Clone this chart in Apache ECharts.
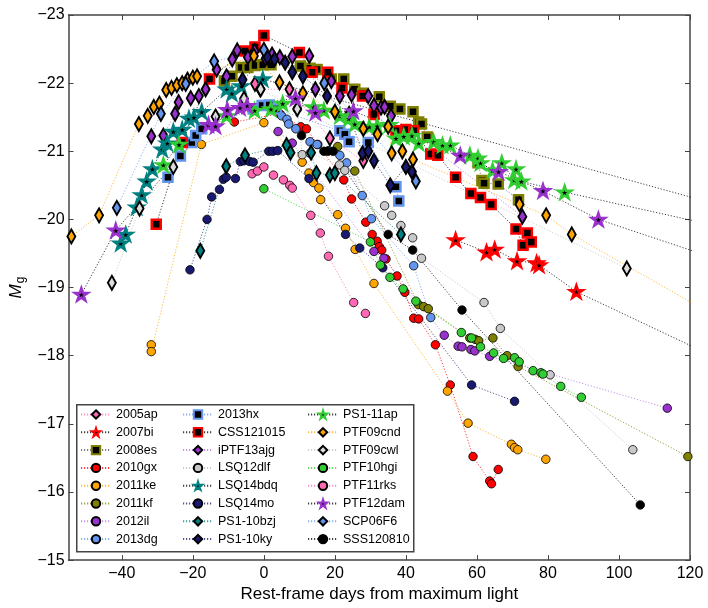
<!DOCTYPE html>
<html>
<head>
<meta charset="utf-8">
<title>SLSN g-band light curves</title>
<script src="https://cdn.jsdelivr.net/npm/echarts@6/dist/echarts.min.js"></script>
<style>
  html, body { margin: 0; padding: 0; background: #fff; }
  #chart { width: 708px; height: 608px; }
</style>
</head>
<body>
<div id="chart"></div>
<script>
// light curves: [rest-frame days, M_g]
var sn2005ap = [[-2.5,-21.99],[-1,-21.91],[7.2,-21.91],[18.6,-21.19],[28,-20.86]];
var sn2007bi = [[54,-19.7],[62.7,-19.52],[65,-19.56],[71.3,-19.39],[76.8,-19.36],[77.5,-19.33],[88,-18.94],[120.5,-18.14]];
var sn2008es = [[-11.1,-22.03],[-9,-22.1],[-6.4,-22.23],[-4.5,-22.23],[-2.5,-22.26],[-0.3,-22.27],[2,-22.27],[10.3,-22.25],
  [13,-22.22],[15,-22.2],[19,-22.06],[22.5,-22.06],[25.6,-21.91],[27.8,-21.85],[32.5,-21.8],[35.6,-21.66],[38.3,-21.62],
  [42,-21.58],[43.6,-21.43],[44.4,-21.4],[46,-21.21],[60.3,-20.83],[61.4,-20.57],[62,-20.53],[66,-20.52],[71.7,-20.29]];
var sn2010gx = [[-8.3,-21.43],[4.5,-21.55],[10.4,-21.36],[12,-21.33],[15.2,-21.1],[22.5,-20.58],[24.7,-20.3],[28.7,-19.96],
  [30.5,-19.78],[31.9,-19.68],[32.5,-19.6],[33.2,-19.55],[34.4,-19.42],[37.5,-19.17],[39.7,-18.93],[42.2,-18.55],[43.6,-18.54],
  [48.3,-18.16],[52.5,-17.57],[58.9,-16.52],[63.6,-16.16],[64.1,-16.12],[66,-16.33]];
var sn2011ke = [[-31.7,-18.16],[-31.7,-18.06],[-17.6,-21.1],[0,-21.42],[10.8,-20.84],[12.7,-20.68],[14,-20.54],[15.5,-20.46],
  [16,-20.29],[20.8,-20.07],[23,-19.87],[25.7,-19.56],[31,-19.06],[51.7,-17.48],[57.5,-17.01],[69.7,-16.7],[70.6,-16.65],
  [71.5,-16.62],[79.4,-16.48]];
var sn2011kf = [[20.8,-21.07],[25.6,-20.71],[43.5,-18.75],[45,-18.72],[46.3,-18.69],[58,-18.26],[59.5,-18.24],[60.5,-18.22],
  [64.5,-18.26],[68.5,-18.0],[71.6,-17.84],[119.4,-16.52]];
var sn2012il = [[4,-21.29],[8,-21.12],[31,-19.53],[33.8,-19.43],[50.8,-18.3],[54.7,-18.14],[55.8,-18.13],[58.3,-18.09],
  [59.4,-18.07],[63.6,-17.99],[113.6,-17.23]];
var sn2013dg = [[5,-21.52],[6.5,-21.47],[7,-21.4],[9,-21.33],[13,-21.14],[15,-21.1],[18.3,-21.01],[21.4,-20.94],[23.3,-20.83],
  [27.7,-20.35],[30.3,-20.01],[42.2,-19.32],[47,-18.56]];
var sn2013hx = [[-27,-20.62],[-23.5,-20.93],[-20.3,-21.13],[-19.2,-21.23],[-17.5,-21.33],[-3,-21.62],[-0.5,-21.67],[1.5,-21.68],
  [3.5,-21.62],[21.4,-21.3],[22.8,-21.25],[24,-21.14],[29.4,-21.13],[37.2,-20.48],[38,-20.27]];
var css121015 = [[-30.3,-19.93],[-23,-21.13],[-15.3,-22.06],[-5.3,-22.47],[-2.5,-22.53],[0,-22.7],[10,-22.45],[13.6,-22.16],
  [18,-22.16],[22,-21.93],[27.8,-21.81],[31,-21.54],[37.2,-21.3],[40,-21.32],[42.2,-21.3],[47,-20.96],[49,-20.94],[54,-20.62],
  [58.3,-20.38],[61,-20.32],[64,-20.22],[71,-19.86],[73,-19.62],[74.2,-19.8],[75.3,-19.67]];
var iptf13ajg = [[-31.7,-21.22],[-28.3,-21.23],[-25,-21.55],[-24,-21.72],[-20.6,-21.78],[-18.3,-21.81],[-16.4,-21.91],
  [-13.3,-22.2],[-10.5,-22.1],[-8.9,-22.35],[-7.5,-22.48],[-4.5,-22.38],[-2.6,-22.47],[0.5,-22.36],[2.3,-22.42],[4.5,-22.38],
  [8,-22.39],[12.8,-22.4],[14.5,-21.91],[19,-22.03],[21.4,-21.81],[24.7,-21.83],[29.4,-21.81],[31,-21.67],[33,-21.64],
  [34,-21.65],[35.8,-21.52],[72.8,-20.04]];
var lsq12dlf = [[9.4,-21.62],[10.8,-20.95],[13,-20.97],[21.3,-20.8],[22.8,-20.72],[34,-20.2],[36,-20.06],[38.6,-19.91],
  [41.9,-19.73],[44.4,-19.43],[62,-18.78],[66.6,-18.4],[80.6,-17.72],[103.9,-16.62]];
var lsq14bdq = [[-40.3,-19.65],[-38.9,-19.78],[-35.8,-20.18],[-34.4,-20.36],[-33,-20.56],[-31.4,-20.74],[-28.6,-21.03],
  [-27.2,-21.12],[-25.5,-21.29],[-23,-21.32],[-21.1,-21.48],[-19.7,-21.5],[-17.5,-21.58],[-10.5,-21.91],[-9,-21.85],
  [-6.4,-21.96],[-0.3,-22.06],[200,-19.18]];
var lsq14mo = [[-20.8,-19.26],[-16,-20.0],[-14.7,-20.33],[-12.5,-20.44],[-11.4,-20.59],[-10.6,-20.62],[-8,-20.6],[-6.6,-20.85],
  [-5.6,-20.86],[-4,-20.85],[-3,-20.84],[1.4,-21.0],[2.5,-21.0],[3.9,-21.01],[12.7,-20.6],[23,-19.78],[27,-19.58],
  [33.5,-19.29],[58.5,-17.57],[70.6,-17.33]];
var ps1_10bzj = [[-17.9,-19.54],[-10.6,-20.78],[-5.3,-20.94],[6.4,-21.09],[7.5,-20.98],[13.3,-20.98],[14.8,-20.68],
  [18.6,-20.65],[20,-20.68],[38.6,-19.78]];
var ps1_10ky = [[-6,-22.05],[1,-22.38],[3,-22.35],[6,-22.3],[8,-22.16],[11,-22.1],[17.8,-21.81],[24,-21.55],[27.8,-20.97],
  [29.4,-21.0],[31,-20.86],[35.6,-20.5],[40,-20.77],[41.7,-20.7]];
var ps1_11ap = [[-28.3,-20.8],[-23.9,-21.1],[-10.5,-21.52],[-2.6,-21.6],[2,-21.62],[5.3,-21.7],[14,-21.65],[16.9,-21.6],
  [21.4,-21.52],[23.9,-21.48],[25.6,-21.4],[29.7,-21.36],[31.9,-21.37],[35.3,-21.39],[37.2,-21.19],[39.4,-21.22],
  [41.7,-21.23],[43.6,-21.12],[47.8,-21.14],[50.3,-21.09],[52.5,-21.09],[58,-20.94],[60.3,-20.9],[61,-20.83],[64.4,-20.72],
  [67,-20.83],[70.5,-20.58],[71,-20.74],[72.5,-20.56],[84.7,-20.4],[160,-19.53]];
var ptf09cnd = [[-54.2,-19.75],[-46.4,-20.06],[-35.2,-21.4],[-32.7,-21.52],[-31,-21.65],[-29.4,-21.7],[-27.5,-21.9],
  [-26,-21.93],[-24.5,-21.97],[-23,-22.0],[-21.5,-22.05],[-20,-22.08],[-18.8,-22.1],[-2.8,-22.4],[4.4,-22.01],[11,-21.85],
  [20,-21.58],[28,-21.33],[32,-21.25],[35,-21.36],[36,-20.97],[39,-21.0],[42,-20.88],[72,-20.22],[79.5,-20.06],
  [86.7,-19.78],[140,-18.2]];
var ptf09cwl = [[-42.8,-19.07],[-35,-20.16],[-25.5,-20.77],[-13.6,-21.51],[-5.6,-21.77],[-0.9,-21.91],[9.4,-21.62],[102.2,-19.28]];
var ptf10hgi = [[0,-20.45],[30,-19.67],[32.8,-19.33],[35.5,-19.15],[39.2,-18.98],[42.8,-18.8],[55.6,-18.34],[58.5,-18.26],
  [61,-18.13],[64.7,-18.04],[67.5,-17.96],[70.6,-17.97],[71.9,-17.91],[75.8,-17.78],[78,-17.75],[78.6,-17.73],[83.6,-17.55],
  [89.4,-17.39]];
var ptf11rks = [[-3.3,-20.67],[-1.8,-20.71],[0,-20.77],[2.7,-20.65],[5.5,-20.58],[7.3,-20.5],[8,-20.46],[13.2,-20.06],
  [15.9,-19.8],[18.2,-19.46],[25.3,-18.78],[28.6,-18.62]];
var ptf12dam = [[-51.4,-18.9],[-41.7,-19.84],[-15.6,-21.39],[-13.6,-21.37],[-10.3,-21.61],[-6.7,-21.64],[-4.7,-21.67],
  [8.9,-21.78],[14.5,-21.57],[25.2,-21.59],[55.3,-20.94],[66.1,-20.7],[78.6,-20.42],[94.2,-20.0],[150,-19.03]];
var scp06f6 = [[-41.4,-20.17],[-29,-21.55],[-22,-21.99],[-14,-22.32],[0,-22.49],[17,-22.0],[42.8,-20.56]];
var sss120810 = [[10.6,-21.23],[16.9,-21.0],[18,-21.0],[19.5,-21.0],[35,-19.78],[41.9,-19.55],[55.8,-18.67],[106,-15.81]];

var names = ['2005ap','2007bi','2008es','2010gx','2011ke','2011kf','2012il','2013dg',
  '2013hx','CSS121015','iPTF13ajg','LSQ12dlf','LSQ14bdq','LSQ14mo','PS1-10bzj','PS1-10ky',
  'PS1-11ap','PTF09cnd','PTF09cwl','PTF10hgi','PTF11rks','PTF12dam','SCP06F6','SSS120810'];
var curves = [sn2005ap, sn2007bi, sn2008es, sn2010gx, sn2011ke, sn2011kf, sn2012il, sn2013dg,
  sn2013hx, css121015, iptf13ajg, lsq12dlf, lsq14bdq, lsq14mo, ps1_10bzj, ps1_10ky,
  ps1_11ap, ptf09cnd, ptf09cwl, ptf10hgi, ptf11rks, ptf12dam, scp06f6, sss120810];

var xTicks = [-40, -20, 0, 20, 40, 60, 80, 100, 120];

// marker kind, marker colour, line colour
var looks = [
  ['diamond', '#ff69b4', '#ff69b4'], ['star', '#ff0000', '#000'], ['square', '#808000', '#555'],
  ['circle', '#ff0000', '#ff0000'], ['circle', '#ffa500', '#ffa500'], ['circle', '#808000', '#808000'],
  ['circle', '#9932cc', '#b070e0'], ['circle', '#6495ed', '#6495ed'],
  ['square', '#6495ed', '#6495ed'], ['square', '#ff0000', '#000'], ['diamond', '#9932cc', '#b070e0'],
  ['circle', '#c8c8c8', '#b8b8b8'], ['star', '#008080', '#000'], ['circle', '#191970', '#191970'],
  ['diamond', '#008080', '#008080'], ['diamond', '#191970', '#191970'],
  ['star', '#32cd32', '#000'], ['diamond', '#ffa500', '#ffa500'], ['diamond', '#dcdcdc', '#c0c0c0'],
  ['circle', '#32cd32', '#32cd32'], ['circle', '#ff69b4', '#ff69b4'], ['star', '#9932cc', '#000'],
  ['diamond', '#6495ed', '#6495ed'], ['circle', '#000', '#000']
];

var STAR = 'path://M100,0 L122.45,69.1 L195.11,69.1 L136.33,111.8 L158.78,180.9 L100,138.2 L41.22,180.9 L63.67,111.8 L4.89,69.1 L77.55,69.1 Z';
var FONT = 'Liberation Sans, Arial, sans-serif';

function marker(kind, color) {
  if (kind === 'circle') return { symbol: 'circle', symbolSize: 8.5, itemStyle: { color: color, borderColor: '#000', borderWidth: 0.8 } };
  if (kind === 'diamond') return { symbol: 'diamond', symbolSize: [8, 14], itemStyle: { color: color, borderColor: '#000', borderWidth: 2 } };
  if (kind === 'square') return { symbol: 'rect', symbolSize: 9, itemStyle: { color: '#000', borderColor: color, borderWidth: 2.5 } };
  return { symbol: STAR, symbolSize: 13, symbolKeepAspect: true, itemStyle: { color: '#000', borderColor: color, borderWidth: 2.5 } };
}

var series = names.map(function (n, i) {
  var m = marker(looks[i][0], looks[i][1]);
  return {
    name: n,
    type: 'line',
    data: curves[i],
    symbol: m.symbol,
    symbolSize: m.symbolSize,
    symbolKeepAspect: m.symbolKeepAspect || false,
    showSymbol: true,
    showAllSymbol: true,
    itemStyle: m.itemStyle,
    lineStyle: { color: looks[i][2], width: 1, type: [1.2, 1.8], opacity: 0.75 },
    emphasis: { disabled: true },
    clip: true
  };
});

var minus = function (v) { return String(v).replace('-', '\u2212'); };
var frame = { show: true, onZero: false, lineStyle: { color: '#444', width: 1.5 } };
var tick = { show: true, inside: true, length: 5, lineStyle: { color: '#444', width: 1 } };

var chart = echarts.init(document.getElementById('chart'), null, { renderer: 'canvas' });
chart.setOption({
  animation: false,
  backgroundColor: '#fff',
  textStyle: { fontFamily: FONT },
  grid: { left: 57, right: 18, top: 15, bottom: 40, containLabel: false },
  xAxis: [
    {
      type: 'value', min: -55, max: 120, position: 'bottom',
      axisLine: frame,
      axisTick: Object.assign({ customValues: xTicks }, tick),
      axisLabel: { customValues: xTicks, formatter: minus, fontSize: 16, color: '#000', margin: 5, fontFamily: FONT },
      splitLine: { show: false },
      name: 'Rest-frame days from maximum light', nameLocation: 'middle', nameGap: 21,
      nameTextStyle: { fontSize: 17, color: '#000', fontFamily: FONT }
    },
    {
      type: 'value', min: -55, max: 120, position: 'top',
      axisLine: frame,
      axisTick: Object.assign({ customValues: xTicks }, tick),
      axisLabel: { show: false },
      splitLine: { show: false }
    }
  ],
  yAxis: [
    {
      type: 'value', min: -23, max: -15, interval: 1, inverse: true, position: 'left',
      axisLine: frame, axisTick: tick,
      axisLabel: { formatter: minus, fontSize: 16, color: '#000', margin: 4, fontFamily: FONT },
      splitLine: { show: false },
      name: '{m|M}{g|g}', nameLocation: 'middle', nameGap: 37, nameRotate: 90,
      nameTextStyle: {
        color: '#000',
        rich: {
          m: { fontSize: 17, fontStyle: 'italic', fontFamily: FONT, color: '#000' },
          g: { fontSize: 12, fontFamily: FONT, color: '#000', padding: [8, 0, 0, 1] }
        }
      }
    },
    {
      type: 'value', min: -23, max: -15, interval: 1, inverse: true, position: 'right',
      axisLine: frame, axisTick: tick,
      axisLabel: { show: false },
      splitLine: { show: false }
    }
  ],
  legend: [0, 1, 2].map(function (c) {
    return {
      data: names.slice(c * 8, c * 8 + 8),
      orient: 'vertical',
      left: [80, 182, 307][c],
      top: 408,
      padding: 0,
      itemWidth: 30,
      itemHeight: 10.5,
      itemGap: 4.8,
      selectedMode: false,
      z: 5,
      textStyle: { fontSize: 12.5, color: '#000', fontFamily: FONT }
    };
  }),
  graphic: [{
    type: 'rect', left: 76, top: 404, z: 4,
    shape: { width: 337, height: 147 },
    style: { fill: '#fff', stroke: '#444', lineWidth: 1.5 }
  }],
  series: series
});
</script>
</body>
</html>
